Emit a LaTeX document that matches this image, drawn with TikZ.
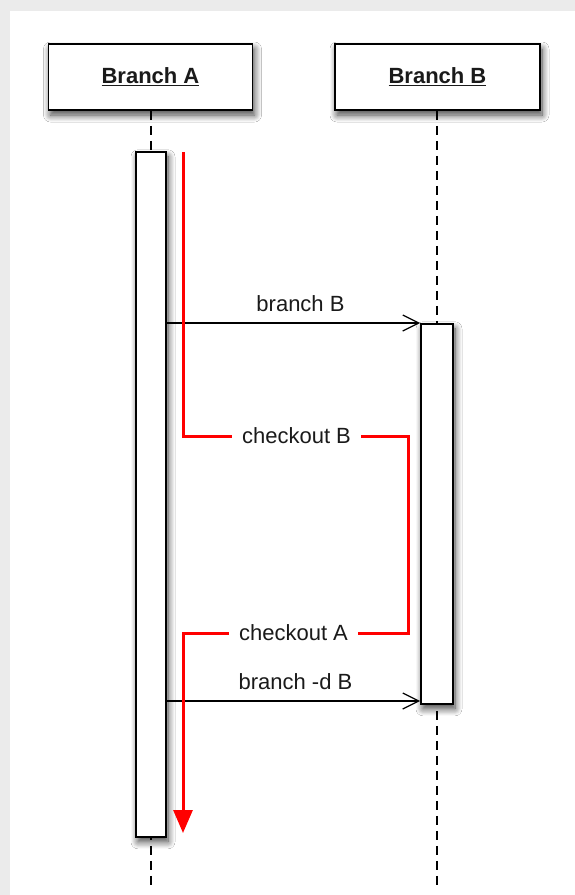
\documentclass[tikz,border=0pt]{standalone}
\usepackage{fontspec}
\setmainfont{Liberation Sans}
\usetikzlibrary{arrows.meta,shadows.blur}
\definecolor{bggray}{HTML}{EBEBEB}
\definecolor{txt}{HTML}{1A1A1A}
\begin{document}
\begin{tikzpicture}[x=1pt,y=-1pt,
  shadowed/.style={blur shadow={shadow xshift=2pt, shadow yshift=-5pt, shadow blur steps=10, shadow blur radius=7pt, shadow opacity=75}},
  lane/.style={draw=black, line width=1.6pt, fill=white, minimum height=66pt, inner sep=0pt,
    font=\fontsize{22}{26}\selectfont\bfseries, text=txt, shadowed},
  activation/.style={draw=black, line width=1.6pt, fill=white, minimum width=30pt, inner sep=0pt, anchor=north, shadowed},
  lifeline/.style={draw=black, line width=1.6pt, dash pattern=on 9pt off 6pt},
  msg/.style={draw=black, line width=1.3pt, -{Straight Barb[length=16pt,width=16pt,line width=1.3pt]}},
  lbl/.style={font=\fontsize{22}{26}\selectfont, text=txt, inner sep=0pt},
  flow/.style={draw=red, line width=3pt, -{Triangle[length=23pt,width=19pt]}},
  flowlbl/.style={lbl, fill=white, inner xsep=10pt, inner ysep=2pt}
]
\useasboundingbox (0,0) rectangle (575,895);
\fill[bggray] (0,0) rectangle (575,895);
\fill[white] (10,11) rectangle (575,895);

% heads
\node[lane, minimum width=204pt] (headA) at (150.5,77) {\underline{Branch A}};
\node[lane, minimum width=205pt] (headB) at (437.5,77) {\underline{Branch B}};

% lifeline ends
\coordinate (endA) at (151,887);
\coordinate (endB) at (437,887);
\draw[lifeline] (headA.south -| endA) -- (endA);
\draw[lifeline] (headB.south -| endB) -- (endB);

% activations
\node[activation, minimum height=685pt] (actA) at (151,151) {};
\node[activation, minimum height=380pt, minimum width=32pt] (actB) at (437,323) {};

% messages
\coordinate (m1) at (0,323);
\coordinate (m2) at (0,701);
\draw[msg] (actA.east |- m1) -- node[lbl, anchor=base, yshift=12pt, xshift=7pt] (l1) {branch B} (actB.west |- m1);
\draw[msg] (actA.east |- m2) -- node[lbl, anchor=base, yshift=12pt, xshift=2pt] (l2) {branch -d B} (actB.west |- m2);

% red flow
\coordinate (r0) at (183,152);
\coordinate (r1) at (183,436);
\coordinate (r2) at (408,436);
\coordinate (r3) at (408,633);
\coordinate (r4) at (183,633);
\coordinate (r5) at (183,833);
\draw[flow] (r0) -- (r1) -- node[flowlbl, xshift=1pt] (c1) {checkout B} (r2) -- (r3) -- node[flowlbl, xshift=-2pt] (c2) {checkout A} (r4) -- (r5);
\end{tikzpicture}
\end{document}
